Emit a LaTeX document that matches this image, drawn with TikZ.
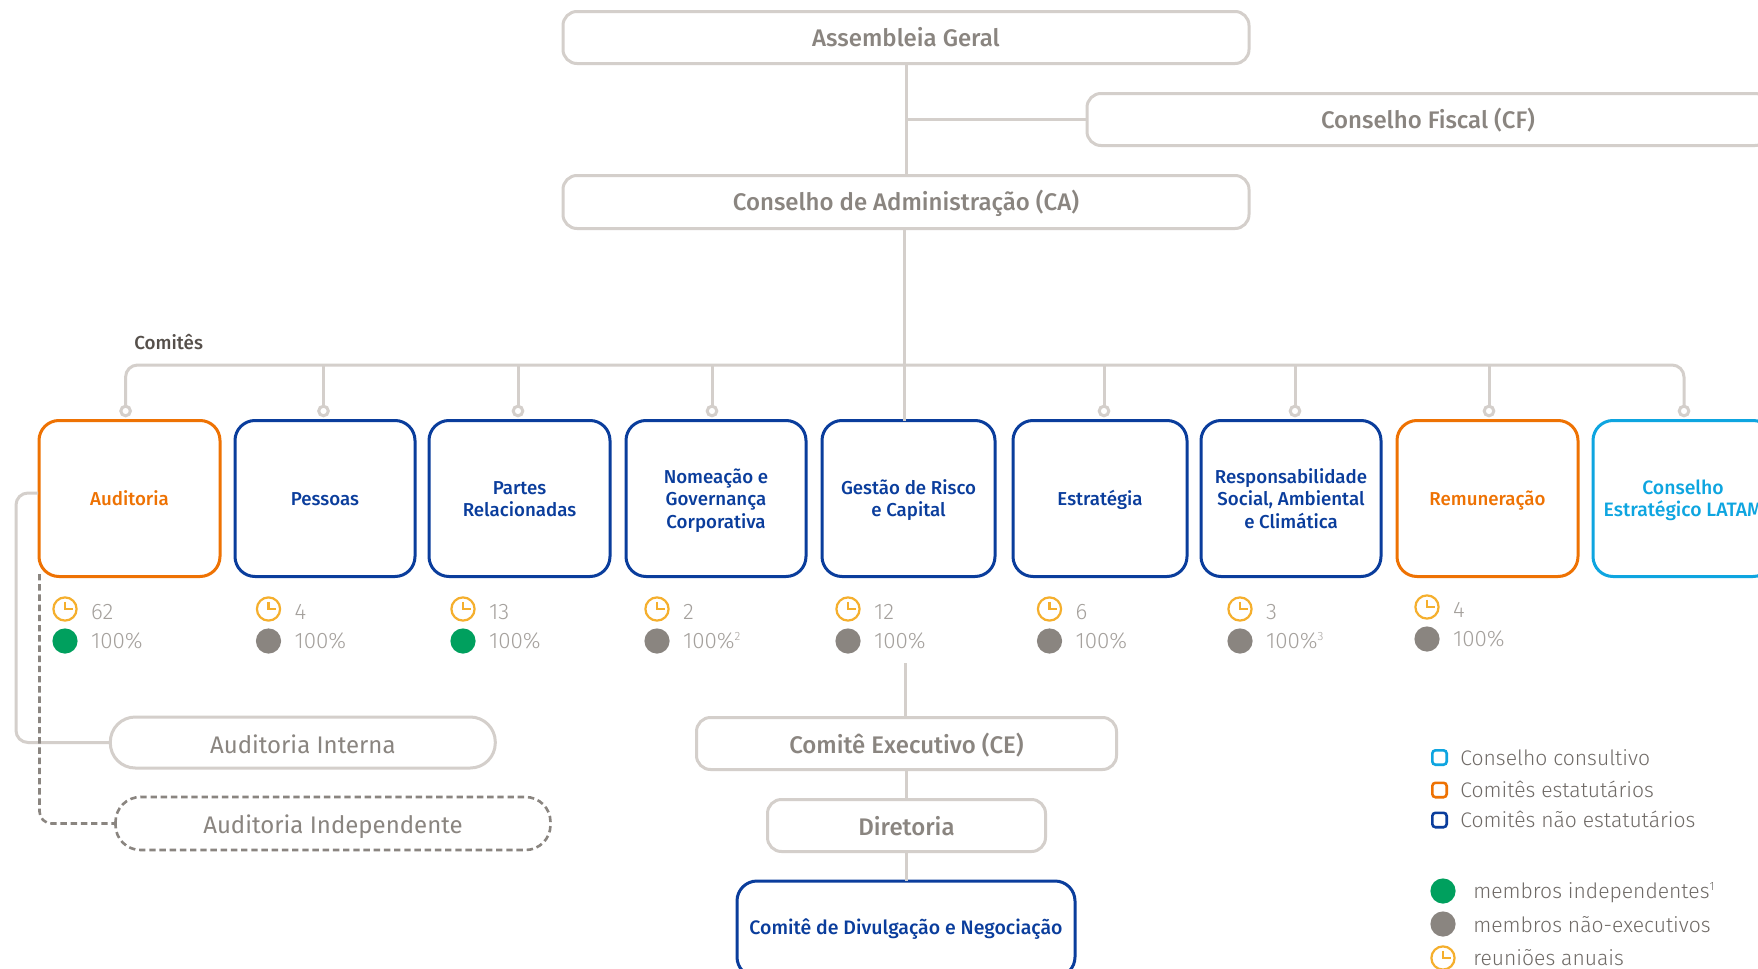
\documentclass[tikz,border=0pt]{standalone}
\usepackage{fontspec}
\setmainfont{Fira Sans}[UprightFont=* Light,BoldFont=* Medium]
\newfontfamily\medf{Fira Sans}[UprightFont=* Medium]
\newfontfamily\regf{Fira Sans}
\definecolor{linegray}{HTML}{D4CFCB}
\definecolor{textgray}{HTML}{8A8580}
\definecolor{statgray}{HTML}{A5A19D}
\definecolor{legtext}{HTML}{6F6A66}
\definecolor{darkt}{HTML}{56504B}
\definecolor{itblue}{HTML}{0A3D9C}
\definecolor{itorange}{HTML}{EE7203}
\definecolor{itcyan}{HTML}{0EA5E0}
\definecolor{itgreen}{HTML}{00A05E}
\definecolor{itclock}{HTML}{F5AF2D}
\newcommand{\ctop}{\rule{0pt}{9.6pt}}
\newcommand{\cbot}{\rule[-2.5pt]{0pt}{2.5pt}}
\newcommand{\supn}[1]{\textsuperscript{\fontsize{6}{6}\selectfont #1}}
\tikzset{
  x=0.5pt,y=-0.5pt,
  conn/.style={draw=linegray,line width=1.5pt},
  dashconn/.style={draw=textgray,line width=1.3pt,dash pattern=on 3.2pt off 1.9pt},
  mainbox/.style={draw=linegray,line width=1.5pt,rounded corners=7pt,fill=white,outer sep=0pt,inner sep=0pt,
     text=textgray,font=\medf\fontsize{12}{14}\selectfont,text height=11pt,text depth=2pt},
  pillbox/.style={mainbox,rounded corners=12.5pt,font=\regf\fontsize{12}{14}\selectfont,text height=11.8pt,text depth=1.4pt},
  combox/.style={line width=1.5pt,rounded corners=10pt,fill=white,outer sep=0pt,inner sep=0pt,align=center,
     minimum height=78pt,font=\medf\fontsize{9.35}{11.3}\selectfont},
  bluebox/.style={combox,draw=itblue,text=itblue},
  orangebox/.style={combox,draw=itorange,text=itorange},
  cyanbox/.style={combox,draw=itcyan,text=itcyan},
  tap/.style={circle,draw=linegray,line width=1.5pt,fill=white,minimum size=4.8pt,inner sep=0pt,outer sep=0pt},
  dotg/.style={circle,fill=itgreen,minimum size=12.6pt,inner sep=0pt,outer sep=0pt},
  dotn/.style={circle,fill=textgray,minimum size=12.6pt,inner sep=0pt,outer sep=0pt},
  clockn/.style={circle,draw=itclock,line width=1.1pt,fill=white,minimum size=11.6pt,inner sep=0pt,outer sep=0pt},
  hands/.style={itclock,line width=1.1pt},
  stat/.style={anchor=base west,inner sep=0pt,text=statgray,font=\fontsize{11.2}{12}\selectfont},
  legsq/.style={draw,line width=1.3pt,rounded corners=1.6pt,minimum size=7.2pt,inner sep=0pt,outer sep=0pt,fill=white},
  legt/.style={anchor=base west,inner sep=0pt,text=legtext,font=\fontsize{10.55}{12}\selectfont},
}
\newcommand{\thepct}{100\%}
\newcommand{\statcol}[6]{%
  \node[clockn] (#1c) at (#2,#3) {};
  \draw[hands] ([yshift=3.6pt]#1c.center) -- (#1c.center) -- ([xshift=3.8pt]#1c.center);
  \node[#6] (#1d) at (#2,#4) {};
  \node[stat] (#1n) at ([xshift=12.8pt,yshift=-5pt]#1c.center) {#5};
  \node[stat] (#1p) at ([xshift=12.8pt,yshift=-3.85pt]#1d.center) {\thepct};
}
\begin{document}
\begin{tikzpicture}
\clip (0,0) rectangle (1758,969);
\fill[white] (0,0) rectangle (1758,969);
% main boxes
\node[mainbox,minimum width=343pt,minimum height=26pt] (ag) at (906,37.5) {Assembleia Geral};
\node[mainbox,minimum width=341pt,minimum height=26pt] (cf) at (1428,119.5) {Conselho Fiscal (CF)};
\node[mainbox,minimum width=343pt,minimum height=26.5pt,text height=10.8pt] (ca) at (906,202) {Conselho de Administração (CA)};
% committees
\node[orangebox,minimum width=90.5pt] (aud) at (129.5,498.5) {\ctop Auditoria\cbot};
\node[bluebox,minimum width=90pt] (pes) at (325,498.5) {\ctop Pessoas\cbot};
\node[bluebox,minimum width=90.5pt] (par) at (519.5,498.5) {\ctop Partes\\Relacionadas\cbot};
\node[bluebox,minimum width=90pt] (nom) at (716,498.5) {\ctop Nomeação e\\Governança\\Corporativa\cbot};
\node[bluebox,minimum width=86.5pt] (ges) at (908.5,498.5) {\ctop Gestão de Risco\\e Capital\cbot};
\node[bluebox,minimum width=87pt] (est) at (1100,498.5) {\ctop Estratégia\cbot};
\node[bluebox,minimum width=90pt] (res) at (1291,498.5) {\ctop Responsabilidade\\Social, Ambiental\\e Climática\cbot};
\node[orangebox,minimum width=90.5pt] (rem) at (1487.5,498.5) {\ctop Remuneração\cbot};
\node[cyanbox,minimum width=90pt,font=\medf\fontsize{9.7}{11.3}\selectfont] (lat) at (1683,498.5) {\ctop Conselho\\Estratégico LATAM\cbot};
% taps
\foreach \n/\x in {t1/125.6,t2/323.5,t3/518,t4/712,t5/1104,t6/1295,t7/1489,t8/1684}
  \node[tap] (\n) at (\x,411) {};
\coordinate (bus) at (905,365);
\draw[conn] ([xshift=-0.8pt]ca.south) -- ([xshift=-0.8pt]ca.south |- ges.north);
\draw[conn,rounded corners=6pt] (t1.north) |- (bus) -| (t8.north);
\foreach \n in {t2,t3,t4,t5,t6,t7}
  \draw[conn] (\n.north) -- (\n.north |- bus);
\draw[conn] (ag.south) -- (ca.north);
\coordinate (cfj) at (ag.south |- cf.west);
\draw[conn] (cfj) -- (cf.west);
% stats
\statcol{a}{65}{609}{641}{62}{dotg}
\statcol{b}{268.5}{609}{641}{4}{dotn}
\statcol{c}{463}{609}{641}{13}{dotg}
\renewcommand{\thepct}{100\%\supn{2}}
\statcol{d}{657}{609}{641}{2}{dotn}
\renewcommand{\thepct}{100\%}
\statcol{e}{848}{609}{641}{12}{dotn}
\statcol{f}{1049.5}{609}{641}{6}{dotn}
\renewcommand{\thepct}{100\%\supn{3}}
\statcol{g}{1240}{609}{641}{3}{dotn}
\renewcommand{\thepct}{100\%}
\statcol{h}{1427}{607}{639}{4}{dotn}
% lower boxes
\node[pillbox,minimum width=192.5pt,minimum height=25.5pt,text height=12.2pt] (ain) at (302.8,742.5) {Auditoria Interna};
\node[pillbox,draw=none,fill=none,minimum width=217.5pt,minimum height=26.5pt] (aid) at (333,823.5) {Auditoria Independente};
\draw[dashconn,rounded corners=12.5pt] (aid.north west) rectangle (aid.south east);
\coordinate (audj) at (38,493);
\coordinate (ainl) at (16,600);
\draw[conn,rounded corners=6pt] (audj) -| (ainl) |- (ain.west);
\coordinate (audd) at (39.5,574);
\draw[dashconn,rounded corners=6pt] (audd) |- (aid.west);
\node[mainbox,minimum width=210pt,minimum height=26pt,text height=12pt] (ce) at (906.5,743.5) {Comitê Executivo (CE)};
\node[mainbox,minimum width=139pt,minimum height=26pt,text height=12pt] (dir) at (906.5,825.5) {Diretoria};
\node[bluebox,minimum width=169pt,minimum height=48pt,font=\medf\fontsize{9.75}{11}\selectfont] (cdn) at (906,929) {Comitê de Divulgação e Negociação};
\coordinate (cetop) at (905,663);
\draw[conn] (cetop) -- (cetop |- ce.north);
\draw[conn] (ce.south) -- (dir.north);
\draw[conn] (dir.south) -- (dir.south |- cdn.north);
% comites label
\node[anchor=base west,inner sep=0pt,text=darkt,font=\medf\fontsize{9.4}{11}\selectfont] (clab) at (134,349) {Comitês};
% legend
\node[legsq,draw=itcyan] (l1) at (1439.5,757.5) {};
\node[legsq,draw=itorange] (l2) at (1439.5,790) {};
\node[legsq,draw=itblue] (l3) at (1439.5,820) {};
\node[legt] (lt1) at (1460,765.5) {Conselho consultivo};
\node[legt] (lt2) at (1460,797.5) {Comitês estatutários};
\node[legt] (lt3) at (1460,827.5) {Comitês não estatutários};
\node[dotg] (l4) at (1443,891) {};
\node[dotn] (l5) at (1443,924) {};
\node[clockn] (l6) at (1443,958) {};
\draw[hands] ([yshift=3.6pt]l6.center) -- (l6.center) -- ([xshift=3.8pt]l6.center);
\node[legt] (lt4) at (1473,898) {membros independentes\supn{1}};
\node[legt] (lt5) at (1473,932) {membros não-executivos};
\node[legt] (lt6) at (1473,965) {reuniões anuais};
\end{tikzpicture}
\end{document}
